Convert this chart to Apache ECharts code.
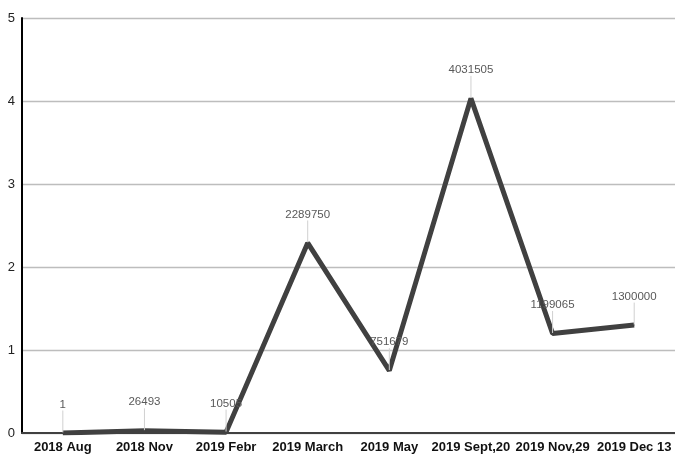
<!DOCTYPE html>
<html><head><meta charset="utf-8">
<script src="https://cdn.jsdelivr.net/npm/echarts@6/dist/echarts.min.js"></script>
<style>html,body{margin:0;padding:0;background:#fff}#c{width:675px;height:454px}</style>
</head><body><div id="c"></div>
<script>
const categories = ['2018 Aug','2018 Nov','2019 Febr','2019 March','2019 May','2019 Sept,20','2019 Nov,29','2019 Dec 13'];
const rawValues = [1, 26493, 10505, 2289750, 751679, 4031505, 1199065, 1300000];
const yTicks = [0, 1, 2, 3, 4, 5];
const data = rawValues.map(v => ({ value: v / 1e6, raw: v }));
const chart = echarts.init(document.getElementById('c'));
chart.setOption({
  animation: false,
  grid: { left: 22, right: -3, top: 18, bottom: 21, containLabel: false },
  xAxis: {
    type: 'category', data: categories, boundaryGap: true,
    axisLine: { lineStyle: { color: '#404040', width: 2 } },
    axisTick: { show: false },
    axisLabel: { color: '#111', fontSize: 13, fontFamily: 'Liberation Sans, Arial', fontWeight: 'bold', margin: 8, interval: 0 }
  },
  yAxis: {
    type: 'value', min: 0, max: 5, interval: 1,
    axisLine: { show: true, lineStyle: { color: '#000', width: 2 } },
    axisTick: { show: false },
    splitLine: { lineStyle: { color: '#bdbdbd', width: 1.3 } },
    axisLabel: { color: '#222', fontSize: 13, fontFamily: 'Liberation Sans, Arial', margin: 7,
      formatter: v => yTicks.includes(v) ? String(v) : '' }
  },
  series: [{
    type: 'line', data: data, symbol: 'circle', symbolSize: 1, showSymbol: true,
    itemStyle: { color: '#404040' },
    lineStyle: { color: '#404040', width: 5 },
    label: { show: true, position: 'top', distance: 0, color: '#595959', fontSize: 11.5, fontFamily: 'Liberation Sans, Arial',
      formatter: p => String(rawValues[p.dataIndex]) },
    labelLayout: { dy: -22 },
    labelLine: { show: true, lineStyle: { color: '#d0d0d0', width: 1 } }
  }]
});
</script></body></html>
